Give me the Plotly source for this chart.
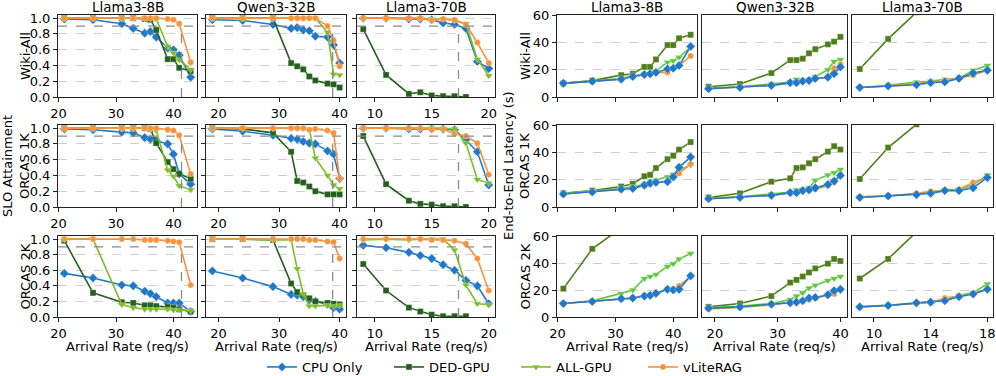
import plotly.graph_objects as go
from plotly.subplots import make_subplots

W, H = 996, 376

models = ['Llama3-8B', 'Qwen3-32B', 'Llama3-70B']
datasets = ['Wiki-All', 'ORCAS 1K', 'ORCAS 2K']
systems = ['CPU Only', 'DED-GPU', 'ALL-GPU', 'vLiteRAG']

# arrival rates (req/s)
rate_8b = [21, 26, 31, 33, 35, 36, 37, 39, 40, 41, 43]
rate_32b = [19, 24, 29, 32, 33, 34, 35, 36, 38, 39, 40]
rate_70b = [9, 11, 13, 14, 15, 16, 17, 18, 19, 20]
rate_70b_lat = [9, 11, 13, 14, 15, 16, 17, 18]

# SLO attainment, order: CPU Only, DED-GPU, ALL-GPU, vLiteRAG
slo_wiki_8b = [
    [0.99, 0.98, 0.93, 0.87, 0.81, 0.83, 0.76, 0.62, 0.60, 0.53, 0.25],
    [1.0, 1.0, 1.0, 1.0, 0.99, 0.98, 0.85, 0.48, 0.48, 0.37, 0.33],
    [1.0, 1.0, 1.0, 1.0, 1.0, 1.0, 0.99, 0.64, 0.56, 0.47, 0.35],
    [1.0, 1.0, 1.0, 1.0, 1.0, 1.0, 1.0, 0.99, 0.98, 0.93, 0.44],
]
slo_wiki_32b = [
    [0.98, 0.97, 0.92, 0.87, 0.88, 0.85, 0.84, 0.77, 0.76, 0.66, 0.43],
    [1.0, 1.0, 1.0, 0.43, 0.39, 0.35, 0.26, 0.21, 0.17, 0.16, 0.12],
    [1.0, 1.0, 1.0, 1.0, 1.0, 1.0, 1.0, 1.0, 0.82, 0.29, 0.28],
    [1.0, 1.0, 1.0, 1.0, 1.0, 1.0, 1.0, 1.0, 0.90, 0.72, 0.39],
]
slo_wiki_70b = [
    [1.0, 1.0, 0.99, 0.99, 0.98, 0.94, 0.92, 0.87, 0.45, 0.36],
    [0.86, 0.28, 0.04, 0.06, 0.02, 0.01, 0.01, 0.0],
    [1.0, 1.0, 1.0, 1.0, 0.99, 0.99, 0.97, 0.93, 0.48, 0.27],
    [1.0, 1.0, 1.0, 1.0, 0.97, 0.99, 0.98, 0.92, 0.69, 0.43],
]
slo_orcas1k_8b = [
    [0.99, 0.98, 0.95, 0.94, 0.88, 0.86, 0.84, 0.80, 0.67, 0.42, 0.29],
    [1.0, 1.0, 1.0, 1.0, 1.0, 0.99, 0.81, 0.57, 0.48, 0.42, 0.36],
    [1.0, 1.0, 1.0, 1.0, 1.0, 0.98, 0.97, 0.47, 0.39, 0.27, 0.22],
    [1.0, 1.0, 1.0, 1.0, 1.0, 1.0, 1.0, 0.98, 0.97, 0.91, 0.42],
]
slo_orcas1k_32b = [
    [0.99, 0.96, 0.91, 0.87, 0.86, 0.83, 0.81, 0.80, 0.71, 0.67, 0.36],
    [1.0, 0.99, 0.94, 0.70, 0.33, 0.31, 0.26, 0.20, 0.16, 0.16, 0.16],
    [1.0, 1.0, 1.0, 1.0, 1.0, 1.0, 0.98, 0.62, 0.40, 0.28, 0.23],
    [1.0, 1.0, 1.0, 1.0, 1.0, 1.0, 0.98, 0.99, 0.97, 0.94, 0.36],
]
slo_orcas1k_70b = [
    [1.0, 1.0, 0.99, 0.99, 0.99, 0.99, 0.98, 0.85, 0.70, 0.28],
    [0.90, 0.29, 0.08, 0.04, 0.03, 0.01, 0.01, 0.0],
    [1.0, 1.0, 1.0, 1.0, 1.0, 1.0, 0.99, 0.81, 0.35, 0.30],
    [1.0, 1.0, 1.0, 1.0, 0.98, 0.99, 0.93, 0.90, 0.81, 0.41],
]
slo_orcas2k_8b = [
    [0.56, 0.50, 0.41, 0.40, 0.33, 0.30, 0.26, 0.18, 0.18, 0.18, 0.07],
    [0.98, 0.31, 0.19, 0.18, 0.15, 0.15, 0.14, 0.13, 0.12, 0.10, 0.07],
    [1.0, 1.0, 0.16, 0.12, 0.10, 0.10, 0.10, 0.10, 0.09, 0.09, 0.08],
    [1.0, 1.0, 1.0, 1.0, 0.99, 0.99, 0.99, 0.98, 0.97, 0.96, 0.41],
]
slo_orcas2k_32b = [
    [0.59, 0.50, 0.39, 0.29, 0.28, 0.26, 0.22, 0.20, 0.16, 0.12, 0.10],
    [1.0, 1.0, 0.99, 0.43, 0.32, 0.28, 0.24, 0.20, 0.18, 0.17, 0.16],
    [1.0, 1.0, 0.99, 0.99, 0.62, 0.30, 0.14, 0.14, 0.15, 0.14, 0.15],
    [1.0, 1.0, 1.0, 1.0, 1.0, 1.0, 0.99, 0.99, 0.97, 0.96, 0.75],
]
slo_orcas2k_70b = [
    [0.92, 0.89, 0.83, 0.79, 0.75, 0.67, 0.60, 0.47, 0.40, 0.17],
    [0.68, 0.34, 0.12, 0.07, 0.03, 0.01, 0.01, 0.01],
    [0.99, 1.0, 0.99, 1.0, 1.0, 1.0, 0.86, 0.41, 0.17, 0.16],
    [1.0, 1.0, 1.0, 1.0, 0.99, 0.99, 0.98, 0.94, 0.75, 0.34],
]

# end-to-end latency (s)
lat_wiki_8b = [
    [10, 11.5, 13, 15, 16.5, 17, 18, 20.5, 21, 23, 37],
    [10, 12, 16, 17, 22, 22, 27.5, 38, 38, 43, 45.5],
    [10, 11.5, 13.5, 15.5, 16.5, 17, 19, 25.5, 26.5, 29, 36.5],
    [10, 11.5, 13, 15, 16, 16.5, 18, 18, 21, 23, 30],
]
lat_wiki_32b = [
    [6, 7, 8.5, 10.5, 10.5, 11.5, 12, 13.5, 14.5, 17, 22],
    [7.5, 9.5, 17.5, 27, 27, 28, 32, 35, 38.5, 40.5, 44],
    [6.5, 7.5, 9.5, 11, 13, 12, 13, 15, 20, 26, 27.5],
    [6, 7, 8.5, 10, 10.5, 12, 12.5, 13.5, 14.5, 21, 24],
]
lat_wiki_70b = [
    [7, 8, 9, 10.5, 11, 13.5, 17.5, 19.5],
    [20.5, 42.5, 62],
    [7, 8.5, 11, 11.5, 13, 13.5, 19.5, 23],
    [7, 8, 10, 11, 12, 14, 16, 19.5],
]
lat_orcas1k_8b = [
    [9.5, 11, 13, 13.5, 16, 17.5, 18, 18.5, 22, 29, 36.5],
    [10, 12, 15, 17, 22.5, 23.5, 28.5, 35, 37.5, 42, 47.5],
    [10, 11.5, 13.5, 15, 16.5, 18, 19.5, 22, 24, 27, 30.5],
    [9.5, 11, 13, 14, 15.5, 16.5, 18, 19, 22, 24.5, 31.5],
]
lat_orcas1k_32b = [
    [6, 7, 8.5, 10.5, 10.5, 12, 12.5, 14, 16.5, 19, 23],
    [7, 10, 18.5, 21, 28.5, 29, 32, 35, 40.5, 44.5, 42],
    [6.5, 7.5, 9.5, 11, 12.5, 13, 14, 19.5, 23.5, 25, 27.5],
    [6, 7, 8.5, 10, 10.5, 11.5, 12.5, 13, 15.5, 18, 24],
]
lat_orcas1k_70b = [
    [7, 8, 9, 10, 12, 12, 14, 21.5],
    [20.5, 43.5, 60.5],
    [7.5, 8, 9.5, 11, 12.5, 13, 16, 23.5],
    [7.5, 8, 10, 11.5, 12, 13, 18, 21.5],
]
lat_orcas2k_8b = [
    [10, 11.5, 13.5, 14, 15.5, 16, 17.5, 20.5, 20, 20.5, 30.5],
    [21, 50.5, 66],
    [10, 12, 17.5, 20, 28.5, 30, 31.5, 37.5, 39.5, 43, 47],
    [10, 11.5, 13.5, 14, 16, 16.5, 17.5, 20.5, 21, 23, 30],
]
lat_orcas2k_32b = [
    [6.5, 7.5, 9.5, 10.5, 11, 12, 14, 14.5, 16.5, 19.5, 20.5],
    [7.5, 10, 15.5, 25.5, 27.5, 30, 33, 36, 39.5, 43, 41.5],
    [7, 8, 10, 13, 15.5, 18, 21.5, 23.5, 27, 28.5, 30],
    [6, 7, 9, 10.5, 11, 12, 13, 14, 16, 17, 20.5],
]
lat_orcas2k_70b = [
    [7.5, 8.5, 10.5, 11, 12, 15, 17, 20.5],
    [28.5, 43, 63],
    [7.5, 8.5, 10, 11.5, 12.5, 16, 18, 24.5],
    [7.5, 8.5, 10, 10.5, 14, 15.5, 17, 21],
]

slo_grid = [
    [slo_wiki_8b, slo_wiki_32b, slo_wiki_70b],
    [slo_orcas1k_8b, slo_orcas1k_32b, slo_orcas1k_70b],
    [slo_orcas2k_8b, slo_orcas2k_32b, slo_orcas2k_70b],
]
lat_grid = [
    [lat_wiki_8b, lat_wiki_32b, lat_wiki_70b],
    [lat_orcas1k_8b, lat_orcas1k_32b, lat_orcas1k_70b],
    [lat_orcas2k_8b, lat_orcas2k_32b, lat_orcas2k_70b],
]
slo_rates = [rate_8b, rate_32b, rate_70b]
lat_rates = [rate_8b, rate_32b, rate_70b_lat]

slo_target = 0.9
knee_rate = [41.4, 38.85, 17.35]

colors_left = ['#1f78c8', '#24601c', '#7cbd22', '#f7923a']
colors_right = ['#1f78c8', '#4e7d1a', '#5cc83c', '#f7923a']
symbols = ['diamond', 'square', 'triangle-down', 'circle']
msizes = [7, 6, 7, 6]

left_cols = [(58, 197), (206, 346), (357, 495)]
right_cols = [(557, 697), (702, 847), (852, 993)]
rows_px = [(15, 97), (125, 207), (236, 317)]

FONT = 'DejaVu Sans'

fig = make_subplots(rows=3, cols=6)


def xd(a, b):
    return [a / W, b / W]


def yd(top, bottom):
    return [1 - bottom / H, 1 - top / H]


def ax_id(r, c):
    n = r * 6 + c + 1
    if n == 1:
        return 'x', 'y', 'xaxis', 'yaxis'
    return 'x%d' % n, 'y%d' % n, 'xaxis%d' % n, 'yaxis%d' % n


slo_ranges = [[19.9, 44.1], [17.95, 41.05], [8.45, 20.55]]
lat_ranges = [[19.9, 44.1], [17.95, 41.05], [8.45, 18.4]]
slo_xticks = [[20, 30, 40], [20, 30, 40], [10, 15, 20]]
lat_xticks = [[20, 30, 40], [20, 30, 40], [10, 14, 18]]

for r in range(3):
    for side in range(2):
        for m in range(3):
            c = side * 3 + m
            xa, ya, xkey, ykey = ax_id(r, c)
            if side == 0:
                ys = slo_grid[r][m]
                xs = slo_rates[m]
                cols = colors_left
                order = [0, 1, 2, 3]
            else:
                ys = lat_grid[r][m]
                xs = lat_rates[m]
                cols = colors_right
                order = [1, 2, 3, 0]
            for s in order:
                vals = ys[s]
                fig.add_trace(go.Scatter(
                    x=xs[:len(vals)], y=vals, mode='lines+markers',
                    name=systems[s], legendgroup=systems[s], legendrank=s + 1,
                    showlegend=(r == 0 and c == 0),
                    line=dict(color=cols[s], width=1.6),
                    marker=dict(symbol=symbols[s], size=msizes[s], color=cols[s],
                                line=dict(color='rgba(255,255,255,0.35)', width=0.8)),
                    xaxis=xa, yaxis=ya,
                ))
            cx = (left_cols if side == 0 else right_cols)[m]
            ry = rows_px[r]
            show_x_labels = side == 0 or r == 2
            fig.layout[xkey].update(
                domain=xd(*cx), anchor=ya, automargin=False,
                range=(slo_ranges if side == 0 else lat_ranges)[m],
                tickvals=(slo_xticks if side == 0 else lat_xticks)[m],
                showticklabels=show_x_labels,
                showgrid=False, zeroline=False,
                showline=True, mirror=True, linecolor='#222', linewidth=1,
                ticks='outside', ticklen=4, tickcolor='#222',
                tickfont=dict(size=13, color='black', family=FONT),
            )
            if side == 0:
                yopts = dict(range=[0, 1.04], tickvals=[0, 0.2, 0.4, 0.6, 0.8, 1.0],
                             ticktext=['0.0', '0.2', '0.4', '0.6', '0.8', '1.0'],
                             showticklabels=(m == 0), ticks='outside')
            else:
                yopts = dict(range=[0, 60], tickvals=[0, 20, 40, 60],
                             showticklabels=(m == 0), ticks='outside' if m == 0 else '')
            fig.layout[ykey].update(
                domain=yd(*ry), anchor=xa, automargin=False,
                showgrid=True, gridcolor='#cfcfcf', griddash='dash', gridwidth=0.8,
                zeroline=False, showline=True, mirror=True, linecolor='#222', linewidth=1,
                ticklen=4, tickcolor='#222',
                tickfont=dict(size=13, color='black', family=FONT),
                **yopts,
            )
            if side == 0:
                fig.add_shape(type='line', xref=xa + ' domain', yref=ya,
                              x0=0, x1=1, y0=slo_target, y1=slo_target,
                              line=dict(color='#8a8a8a', width=1.3, dash='dash'))
                fig.add_shape(type='line', xref=xa, yref=ya,
                              x0=knee_rate[m], x1=knee_rate[m], y0=0, y1=slo_target,
                              line=dict(color='#8a8a8a', width=1.3, dash='dash'))

annotations = []
for side, cols_px in enumerate([left_cols, right_cols]):
    for m, (a, b) in enumerate(cols_px):
        annotations.append(dict(text=models[m], x=(a + b) / 2 / W, y=1 - 7 / H,
                                xref='paper', yref='paper', showarrow=False,
                                xanchor='center', yanchor='middle',
                                font=dict(size=13.5, color='black', family=FONT)))
        annotations.append(dict(text='Arrival Rate (req/s)', x=(a + b) / 2 / W, y=1 - 346 / H,
                                xref='paper', yref='paper', showarrow=False,
                                xanchor='center', yanchor='middle',
                                font=dict(size=13, color='black', family=FONT)))
    for r, (t, bt) in enumerate(rows_px):
        annotations.append(dict(text=datasets[r], x=(25 if side == 0 else 525) / W,
                                y=1 - (t + bt) / 2 / H, xref='paper', yref='paper',
                                showarrow=False, textangle=-90,
                                xanchor='center', yanchor='middle',
                                font=dict(size=13, color='black', family=FONT)))
annotations.append(dict(text='SLO Attainment', x=8 / W, y=1 - 166 / H,
                        xref='paper', yref='paper', showarrow=False, textangle=-90,
                        xanchor='center', yanchor='middle',
                        font=dict(size=13, color='black', family=FONT)))
annotations.append(dict(text='End-to-End Latency (s)', x=509 / W, y=1 - 166 / H,
                        xref='paper', yref='paper', showarrow=False, textangle=-90,
                        xanchor='center', yanchor='middle',
                        font=dict(size=13, color='black', family=FONT)))

fig.update_layout(
    width=W, height=H,
    margin=dict(l=0, r=0, t=0, b=0, autoexpand=False),
    plot_bgcolor='white', paper_bgcolor='white',
    font=dict(family=FONT, size=13, color='black'),
    annotations=annotations,
    legend=dict(orientation='h', x=262 / W, y=1 - 367 / H, xanchor='left', yanchor='middle',
                font=dict(size=13, color='black', family=FONT),
                entrywidth=82, entrywidthmode='pixels', traceorder='normal',
                bgcolor='rgba(0,0,0,0)'),
)

# the page body has a default margin; remove it so the figure fills the window
fig.write_html('out.html', config={'displayModeBar': False},
               post_script="document.body.style.margin='0';")
